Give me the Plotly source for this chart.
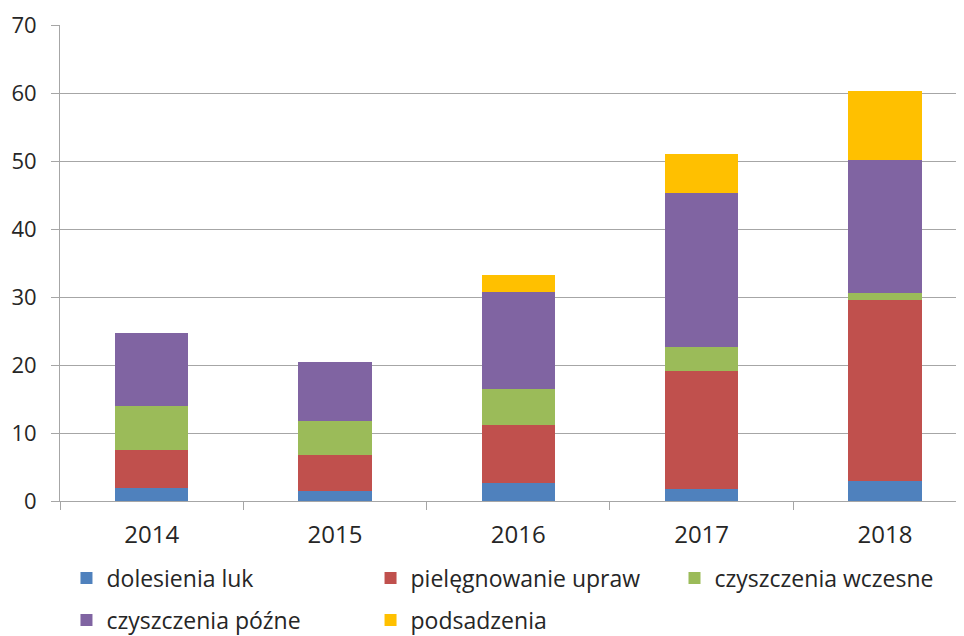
import plotly.graph_objects as go

years = ["2014", "2015", "2016", "2017", "2018"]
dolesienia_luk = [1.9, 1.4, 2.7, 1.75, 2.9]
pielegnowanie_upraw = [5.55, 5.3, 8.55, 17.35, 26.6]
czyszczenia_wczesne = [6.55, 5.05, 5.25, 3.55, 1.1]
czyszczenia_pozne = [10.75, 8.7, 14.3, 22.7, 19.6]
podsadzenia = [0, 0, 2.45, 5.65, 10.05]

series = [
    ("dolesienia luk", dolesienia_luk, "#4F81BD"),
    ("pielęgnowanie upraw", pielegnowanie_upraw, "#C0504D"),
    ("czyszczenia wczesne", czyszczenia_wczesne, "#9BBB59"),
    ("czyszczenia późne", czyszczenia_pozne, "#8064A2"),
    ("podsadzenia", podsadzenia, "#FFC000"),
]
legend_ids = ["legend2", "legend3", "legend4", "legend5", "legend6"]
legend_pos = [(0.0071, -0.1618), (0.3405, -0.1618), (0.6738, -0.1618), (0.0071, -0.2500), (0.3405, -0.2500)]

FONT = "Open Sans"
TXT = "#262626"
GRID = "#A6A6A6"

fig = go.Figure()
for (name, vals, col), lg in zip(series, legend_ids):
    fig.add_trace(go.Bar(x=years, y=vals, name=name, marker=dict(color=col, line=dict(width=0)),
                         legend=lg, showlegend=True))

legends = {}
for lg, (lx, ly) in zip(legend_ids, legend_pos):
    legends[lg] = dict(x=lx, y=ly, orientation="h", xanchor="left", yanchor="middle",
                       font=dict(family=FONT, size=23, color=TXT), itemwidth=30,
                       bgcolor="rgba(0,0,0,0)")

fig.update_layout(
    width=964, height=636,
    margin=dict(l=52, r=0, t=17, b=143, pad=0, autoexpand=False),
    plot_bgcolor="white", paper_bgcolor="white",
    barmode="stack", bargap=0.6,
    font=dict(family=FONT, color=TXT),
    **legends,
    xaxis=dict(type="category", range=[-0.5, 4.475], tickson="boundaries", ticks="outside", ticklen=8,
               tickcolor=GRID, tickwidth=1, showline=True, linecolor=GRID, linewidth=1, showgrid=False,
               tickfont=dict(family=FONT, size=24, color=TXT), ticklabelstandoff=12, automargin=False),
    yaxis=dict(range=[0, 70], dtick=10, ticks="outside", ticklen=8, tickcolor=GRID, tickwidth=1,
               showline=True, linecolor=GRID, linewidth=1, showgrid=True, gridcolor=GRID, gridwidth=1,
               zeroline=False, tickfont=dict(family=FONT, size=22, color=TXT), ticklabelstandoff=10,
               automargin=False),
)

fig.write_html("out.html")
